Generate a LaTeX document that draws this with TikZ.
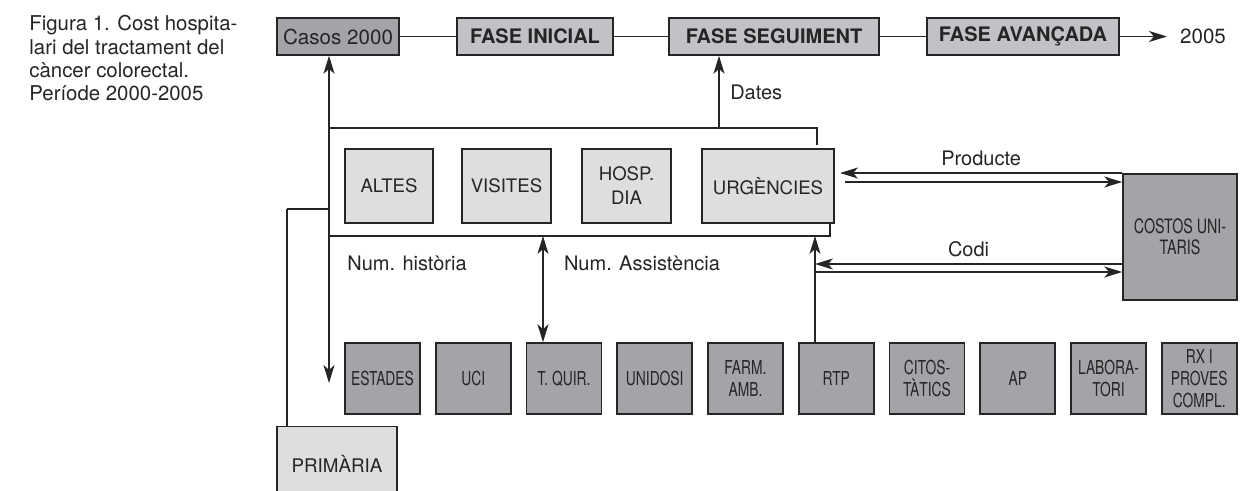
\documentclass[tikz,border=0pt]{standalone}
\usepackage{fontspec}
\setmainfont{TeX Gyre Heros}
\newfontfamily\narrowfont[FakeStretch=0.72]{TeX Gyre Heros}
\usepackage{tikz}
\usetikzlibrary{arrows.meta}

\definecolor{ink}{RGB}{38,36,37}
\definecolor{boxdark}{RGB}{163,164,168}
\definecolor{boxmid}{RGB}{193,194,198}
\definecolor{boxlight}{RGB}{221,222,224}

\begin{document}
\begin{tikzpicture}[x=0.5pt,y=-0.5pt,color=ink]
            \path[use as bounding box, clip] (0,0) rectangle (1242,491);

            \node (caption) [anchor=north west, align=left, inner sep=0pt,
                  font=\fontsize{10.2}{11.7}\selectfont] at (29,15)
                  {Figura 1. Cost hospita-\\lari del tractament del\\càncer colorectal.\\Període 2000-2005};

            % frame round the hospital sources
            \draw[line width=0.6pt] (817,145) -- (817,128) -- (329,128) -- (329,236) -- (830,236) -- (830,223);

            \begin{scope}[every node/.style={draw, line width=0.8pt, fill=boxmid, minimum height=18.5pt,
                          inner sep=0pt, font=\bfseries\fontsize{10}{12}\selectfont}]
                \node (casos) [fill=boxdark, font=\fontsize{10.3}{12}\selectfont, minimum width=61pt] at (338,36.5) {Casos 2000};
                \node (inicial) [minimum width=78pt] at (535,36.5) {FASE INICIAL};
                \node (seguiment) [minimum width=105pt] at (774,36.5) {FASE SEGUIMENT};
                \node (avancada) [minimum width=96pt] at (1023,36.5) {FASE AVANÇADA};

            \end{scope}
            \node (fi) [font=\fontsize{10.3}{12}\selectfont] at (1203,36.5) {2005};

            \begin{scope}[every node/.style={draw, line width=0.8pt, fill=boxlight, minimum height=37pt,
                          inner sep=0pt, align=center, font=\fontsize{9.3}{12}\selectfont}]
                \node (altes) [minimum width=44pt] at (389,186) {ALTES};
                \node (visites) [minimum width=44.5pt] at (506.5,186) {VISITES};
                \node (hosp) [minimum width=44.5pt] at (626.5,186) {HOSP.\\DIA};
                \node (urg) [minimum width=66pt] at (768,186) {URGÈNCIES};
                \node (primaria) [minimum width=60pt, font=\fontsize{9.4}{11}\selectfont] at (337,463.5) {PRIMÀRIA};

            \end{scope}

            \begin{scope}[every node/.style={draw, line width=0.8pt, fill=boxdark, minimum width=37.5pt,
                          minimum height=35.5pt, inner sep=0pt, align=center,
                          font=\narrowfont\fontsize{9.6}{11}\selectfont}]
                \node (estades) at (382.5,378.5) {ESTADES};
                \node (uci) at (473.25,378.5) {UCI};
                \node (tquir) at (564,378.5) {T. QUIR.};
                \node (unidosi) at (654.75,378.5) {UNIDOSI};
                \node (farm) at (745.5,378.5) {FARM.\\AMB.};
                \node (rtp) at (836.25,378.5) {RTP};
                \node (citos) at (927,378.5) {CITOS-\\TÀTICS};
                \node (ap) at (1017.75,378.5) {AP};
                \node (lab) at (1108.5,378.5) {LABORA-\\TORI};
                \node (rx) at (1199.25,378.5) {RX I\\PROVES\\COMPL.};
                \node (costos) [minimum width=57pt, minimum height=63pt,
                      font=\narrowfont\fontsize{9.9}{10.5}\selectfont] at (1180,237) {COSTOS UNI-\\TARIS};

            \end{scope}

            \begin{scope}[every node/.style={font=\fontsize{10}{12}\selectfont}]
                \node (numhist) at (407,263) {Num. història};
                \node (numasst) at (642,263) {Num. Assistència};

            \end{scope}

            \coordinate (hist) at (329,383);
            \coordinate (dates) at (719,128);
            \coordinate (asst) at (543,236);
            \coordinate (codi) at (815,236);
            \coordinate (codiA) at (815,264);
            \coordinate (codiB) at (815,272);
            \coordinate (prodA) at (840,173);
            \coordinate (prodB) at (845,182);
            \coordinate (primA) at (287,209);
            \coordinate (primB) at (329,209);

            \begin{scope}[>={Stealth[length=9pt,width=5.5pt,inset=2.5pt]},
                          every node/.style={font=\fontsize{10}{12}\selectfont},
                          every edge/.style={draw,line width=0.6pt}]
                \path (casos) edge (inicial);
                \path (inicial) edge (seguiment);
                \path (seguiment) edge (avancada);
                \path [->,shorten >=3pt] (avancada) edge (fi);
                \path [<->] (hist) edge (hist |- casos.south);
                \path [->] (dates) edge node[right,xshift=2pt] {Dates} (dates |- seguiment.south);
                \path [<->] (asst) edge (asst |- tquir.north);
                \path [->] (codi |- rtp.north) edge (codi);
                \path [->] (costos.west |- codiA) edge node[above] {Codi} (codiA);
                \path [->] (codiB) edge (costos.west |- codiB);
                \path [->] (costos.west |- prodA) edge node[above] {Producte} (prodA);
                \path [->] (prodB) edge (costos.west |- prodB);
                \path (primaria.north -| primA) edge (primA);
                \path (primA) edge (primB);

            \end{scope}
        \end{tikzpicture}
\end{document}
